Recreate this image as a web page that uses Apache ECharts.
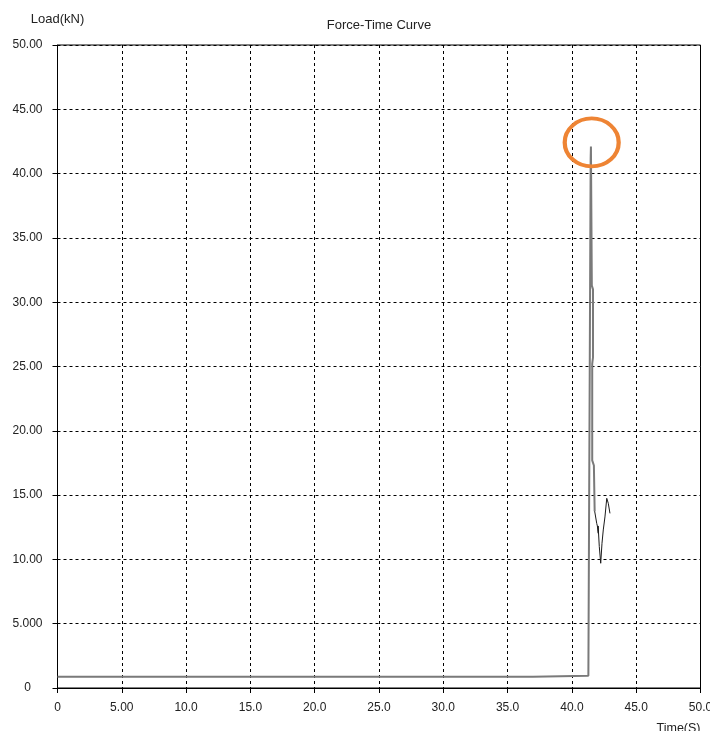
<!DOCTYPE html>
<html>
<head>
<meta charset="utf-8">
<script src="https://cdn.jsdelivr.net/npm/echarts@6/dist/echarts.min.js"></script>
<style>
html,body{margin:0;padding:0;background:#fff;}
#chart{width:710px;height:731px;}
</style>
</head>
<body>
<div id="chart"></div>
<script>
// Data
var titleText = 'Force-Time Curve';
var yName = 'Load(kN)';
var xName = 'Time(S)';
var xTickLabels = ['0','5.00','10.0','15.0','20.0','25.0','30.0','35.0','40.0','45.0','50.0'];
var yTickLabels = ['0','5.000','10.00','15.00','20.00','25.00','30.00','35.00','40.00','45.00','50.00'];

// main (grey) part of the curve: [time s, load kN]
var mainTime = [0, 36.97, 36.98, 41.28, 41.33, 41.40, 41.46, 41.48, 41.55, 41.64, 41.64, 41.58, 41.58, 41.71, 41.77];
var mainLoad = [0.88, 0.88, 0.96, 0.96, 1.07, 1.10, 41.2, 42.1, 31.3, 31.0, 25.7, 25.2, 17.7, 17.3, 13.75];

// post-peak (black, thin) part of the curve
var tailTime = [41.77, 41.93, 41.98, 42.05, 42.04, 42.13, 42.24, 42.34, 42.44, 42.57, 42.71, 42.83, 42.96];
var tailLoad = [13.75, 12.8, 12.6, 12.03, 12.6, 11.0, 9.7, 11.25, 12.29, 13.3, 14.75, 14.36, 13.58];

// orange ring annotation around the peak
var ringCenter = [41.54, 42.42];

function pairs(xs, ys){ var out=[]; for(var i=0;i<xs.length;i++){ out.push([xs[i], ys[i]]); } return out; }

var font = 'Liberation Sans, Arial, sans-serif';
var chart = echarts.init(document.getElementById('chart'), null, {renderer:'canvas'});
chart.setOption({
  animation:false,
  backgroundColor:'#ffffff',
  title:{
    text:titleText, left:374, top:14, textAlign:'center',
    textStyle:{fontFamily:font, fontSize:13, fontWeight:'normal', color:'#222'}
  },
  grid:{left:57.5, right:9.5, top:45, bottom:43, containLabel:false, outerBoundsMode:'none',
    show:true, borderColor:'#000', borderWidth:1, backgroundColor:'transparent'},
  xAxis:{
    type:'value', min:0, max:50, interval:5,
    name:xName, nameLocation:'end', nameGap:0,
    nameTextStyle:{fontFamily:font, fontSize:12.5, color:'#222', align:'right', verticalAlign:'top', padding:[34,0,0,0]},
    axisLine:{show:true, lineStyle:{color:'#000', width:1}},
    axisTick:{show:true, inside:false, length:5, lineStyle:{color:'#000'}},
    axisLabel:{margin:14, fontFamily:font, fontSize:12, color:'#222', showMaxLabel:true, showMinLabel:true,
      formatter:function(v){ return xTickLabels[Math.round(v/5)]; }},
    splitLine:{show:true, lineStyle:{color:'#000', type:[3,3], width:1}}
  },
  yAxis:{
    type:'value', min:0, max:50, interval:5,
    name:yName, nameLocation:'end', nameGap:19,
    nameTextStyle:{fontFamily:font, fontSize:13, color:'#222', align:'center'},
    axisLine:{show:true, lineStyle:{color:'#000', width:1}},
    axisTick:{show:true, inside:false, length:5, lineStyle:{color:'#000'}},
    axisLabel:{margin:30, align:'center', fontFamily:font, fontSize:12, color:'#222',
      formatter:function(v){ return yTickLabels[Math.round(v/5)]; }},
    splitLine:{show:true, lineStyle:{color:'#000', type:[3,3], width:1}}
  },
  series:[
    {
      type:'line', data:pairs(mainTime, mainLoad), showSymbol:false, symbol:'none',
      lineStyle:{color:'#7a7a7a', width:2}, z:3,
      markPoint:{
        symbol:'circle', symbolSize:[54,48], silent:true,
        itemStyle:{color:'rgba(0,0,0,0)', borderColor:'#EE8434', borderWidth:4},
        label:{show:false},
        data:[{coord:ringCenter}]
      }
    },
    {
      type:'line', data:pairs(tailTime, tailLoad), showSymbol:false, symbol:'none',
      lineStyle:{color:'#1a1a1a', width:1}, z:4
    }
  ]
});
</script>
</body>
</html>
